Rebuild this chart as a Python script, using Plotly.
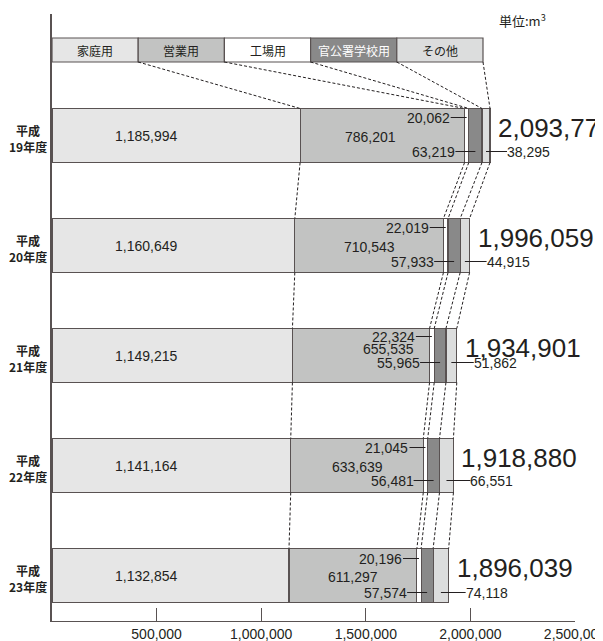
import plotly.graph_objects as go

# ---------------- data ----------------
years = ["19", "20", "21", "22", "23"]
year_labels = ["平成<br>19年度", "平成<br>20年度", "平成<br>21年度", "平成<br>22年度", "平成<br>23年度"]
categories = ["家庭用", "営業用", "工場用", "官公署学校用", "その他"]
home = [1185994, 1160649, 1149215, 1141164, 1132854]
business = [786201, 710543, 655535, 633639, 611297]
factory = [20062, 22019, 22324, 21045, 20196]
government = [63219, 57933, 55965, 56481, 57574]
other = [38295, 44915, 51862, 66551, 74118]
totals = [2093771, 1996059, 1934901, 1918880, 1896039]
tick_values = [500000, 1000000, 1500000, 2000000, 2500000]
tick_labels = ["500,000", "1,000,000", "1,500,000", "2,000,000", "2,500,000"]

# ---------------- style ----------------
W, H = 603, 641
OFF = 8                      # page body margin offset (window px = figure px + OFF)
PL, PR, PT, PB = 52, 575, 14, 621   # plot area in window pixels
ML, MT = PL - OFF, PT - OFF
MR, MB = W - (PR - OFF), H - (PB - OFF)
XMAX = 2500000
Y_RANGE = [4.4136, -1.1045]
PLOT_W = PR - PL
PLOT_H = PB - PT
PX_PER_Y = PLOT_H / (Y_RANGE[0] - Y_RANGE[1])
BAR_W = 54 / PX_PER_Y

colors = ["#e6e6e6", "#c2c3c2", "#ffffff", "#898989", "#dcdddd"]
EDGE = "#595252"
INK = "#231f20"
NUM_FONT = "Liberation Sans, Arial, Noto Sans CJK JP"
JP_FONT = "Noto Sans CJK JP, Liberation Sans"

series = [home, business, factory, government, other]
ypos = list(range(len(years)))

fig = go.Figure()
for name, vals, col in zip(categories, series, colors):
    fig.add_trace(go.Bar(
        y=ypos, x=vals, name=name, orientation="h", width=BAR_W,
        marker=dict(color=col, line=dict(color=EDGE, width=1.2)),
        hoverinfo="x+name", showlegend=False,
    ))

def px2x(px):
    return (px - PL) * XMAX / PLOT_W

def py2y(py):
    return Y_RANGE[1] + (py - PT) / PX_PER_Y

def px2paper(px):
    return (px - PL) / PLOT_W

def py2paper(py):
    return (PB - py) / PLOT_H

shapes = []
annotations = []

cums = []
for i in ypos:
    c, row = 0, []
    for s in series:
        c += s[i]
        row.append(c)
    cums.append(row)

# custom legend
leg_x0, leg_x1, leg_top, leg_bot = 52, 483, 38, 62
seg = (leg_x1 - leg_x0) / 5
leg_edges = [leg_x0 + seg * k for k in range(6)]
for k, (name, col) in enumerate(zip(categories, colors)):
    shapes.append(dict(type="rect", xref="x", yref="y",
                       x0=px2x(leg_edges[k]), x1=px2x(leg_edges[k + 1]),
                       y0=py2y(leg_top), y1=py2y(leg_bot),
                       fillcolor=col, line=dict(color=EDGE, width=1.2), layer="above"))
    annotations.append(dict(x=(px2x(leg_edges[k]) + px2x(leg_edges[k + 1])) / 2,
                            y=py2y((leg_top + leg_bot) / 2), xref="x", yref="y",
                            text=name, showarrow=False,
                            font=dict(family=JP_FONT, size=12,
                                      color="#ffffff" if k == 3 else INK)))

DASH = dict(color=INK, width=1, dash="3px,2px")
for k in range(5):
    shapes.append(dict(type="line", xref="x", yref="y",
                       x0=px2x(leg_edges[k + 1]), y0=py2y(leg_bot),
                       x1=cums[0][k], y1=0 - BAR_W / 2, line=DASH))
for i in range(len(years) - 1):
    for k in range(5):
        shapes.append(dict(type="line", xref="x", yref="y",
                           x0=cums[i][k], y0=i + BAR_W / 2,
                           x1=cums[i + 1][k], y1=i + 1 - BAR_W / 2, line=DASH))

top_dy = [-18, -18, -19, -18, -17]
mid_dy = [1, 1, -7, 1, 1]
mid_dx = [-12, 0, 28, 0, 0]
bot_dy = [16, 16, 7, 15, 17]
LEAD = dict(color=INK, width=1)

for i in ypos:
    c = cums[i]
    annotations.append(dict(x=px2paper(28), y=i + 2.5 / PX_PER_Y, xref="paper", yref="y",
                            xanchor="center", yanchor="middle", text=year_labels[i],
                            showarrow=False, align="center",
                            font=dict(family=JP_FONT, size=12, color=INK, weight="bold")))
    annotations.append(dict(x=0, y=i, xref="x", yref="y", xshift=94,
                            text=f"{home[i]:,}", showarrow=False,
                            font=dict(family=NUM_FONT, size=14, color=INK)))
    annotations.append(dict(x=c[0] + business[i] / 2, y=i + mid_dy[i] / PX_PER_Y,
                            xref="x", yref="y", xshift=mid_dx[i], text=f"{business[i]:,}",
                            showarrow=False, font=dict(family=NUM_FONT, size=14, color=INK)))
    fmid = c[1] + factory[i] / 2
    yt = i + top_dy[i] / PX_PER_Y
    shapes.append(dict(type="line", xref="x", yref="y", xsizemode="pixel", xanchor=fmid,
                       x0=-16, x1=0, y0=yt, y1=yt, line=LEAD, layer="above"))
    annotations.append(dict(x=fmid, y=yt, xref="x", yref="y", xanchor="right", xshift=-15,
                            text=f"{factory[i]:,}", showarrow=False,
                            font=dict(family=NUM_FONT, size=14, color=INK)))
    gmid = c[2] + government[i] / 2
    yb = i + bot_dy[i] / PX_PER_Y
    shapes.append(dict(type="line", xref="x", yref="y", xsizemode="pixel", xanchor=gmid,
                       x0=-20, x1=0, y0=yb, y1=yb, line=LEAD, layer="above"))
    annotations.append(dict(x=gmid, y=yb, xref="x", yref="y", xanchor="right", xshift=-18,
                            text=f"{government[i]:,}", showarrow=False,
                            font=dict(family=NUM_FONT, size=14, color=INK)))
    omid = c[3] + other[i] / 2
    shapes.append(dict(type="line", xref="x", yref="y", xsizemode="pixel", xanchor=c[4],
                       x0=-(c[4] - omid) * PLOT_W / XMAX, x1=17, y0=yb, y1=yb,
                       line=LEAD, layer="above"))
    annotations.append(dict(x=c[4], y=yb, xref="x", yref="y", xanchor="left", xshift=15,
                            text=f"{other[i]:,}", showarrow=False,
                            font=dict(family=NUM_FONT, size=14, color=INK)))
    annotations.append(dict(x=c[4], y=i - 8 / PX_PER_Y, xref="x", yref="y",
                            xanchor="left", xshift=6,
                            text=f"{totals[i]:,}", showarrow=False,
                            font=dict(family=NUM_FONT, size=26, color=INK)))

annotations.append(dict(x=px2paper(288), y=py2paper(-8), xref="paper", yref="paper",
                        text="<b>有収水量</b>", showarrow=False, xanchor="center", yanchor="middle",
                        font=dict(family=JP_FONT, size=26, color=INK)))
annotations.append(dict(x=px2paper(522), y=py2paper(20), xref="paper", yref="paper",
                        text="単位:m<sup>3</sup>", showarrow=False, xanchor="center",
                        yanchor="middle",
                        font=dict(family=JP_FONT, size=13, color=INK)))

fig.update_layout(
    width=W, height=H, barmode="stack",
    margin=dict(l=ML, r=MR, t=MT, b=MB, pad=0, autoexpand=False),
    paper_bgcolor="#ffffff", plot_bgcolor="#ffffff",
    shapes=shapes, annotations=annotations,
    xaxis=dict(range=[0, XMAX], showgrid=False, zeroline=False, showline=True,
               linecolor=EDGE, linewidth=1.3, ticks="inside", ticklen=13,
               tickcolor=EDGE, tickwidth=1.2, tickvals=tick_values, ticktext=tick_labels,
               tickfont=dict(family=NUM_FONT, size=14, color=INK), fixedrange=True,
               automargin=False, ticklabeloverflow="allow"),
    yaxis=dict(range=Y_RANGE, showgrid=False, zeroline=False, showline=True,
               linecolor=EDGE, linewidth=1.5, showticklabels=False, ticks="",
               fixedrange=True, automargin=False),
    showlegend=False,
)

fig.write_html("out.html")
